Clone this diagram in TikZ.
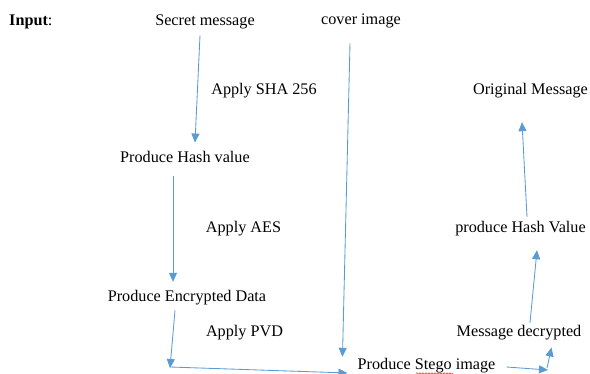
\documentclass[tikz,border=0pt]{standalone}
\usepackage{fontspec}
\setmainfont{Liberation Serif}
\usetikzlibrary{arrows.meta,decorations.pathmorphing}

\definecolor{ink}{HTML}{000000}
\definecolor{flowblue}{HTML}{5B9BD5}
\definecolor{spellred}{HTML}{E0302A}

\begin{document}
\begin{tikzpicture}[
  x=1pt,
  y=-1pt,
  font=\fontsize{16.2}{19}\selectfont,
  lbl/.style={inner sep=0pt,text height=11pt,text depth=3.5pt,text=ink},
  flow/.style={draw=flowblue,line width=.85pt,-{Triangle[length=9pt,width=8pt]}},
  squiggle/.style={draw=spellred,line width=.5pt,decorate,
    decoration={snake,amplitude=.8pt,segment length=3pt}}
]
\useasboundingbox (0,0) rectangle (590,374);

% labels
\node[lbl,anchor=west] (input) at (9,22) {\textbf{Input}:};
\node[lbl] (secret) at (205,22) {Secret message};
\node[lbl] (cover) at (361,21) {cover image};
\node[lbl] (sha) at (264,91) {Apply SHA 256};
\node[lbl] (orig) at (530.5,91) {Original Message};
\node[lbl] (hash) at (185,159) {Produce Hash value};
\node[lbl] (aes) at (243.5,229) {Apply AES};
\node[lbl] (hashv) at (520.5,229) {produce Hash Value};
\node[lbl] (enc) at (187,298) {Produce Encrypted Data};
\node[lbl] (pvd) at (244.5,333) {Apply PVD};
\node[lbl] (decr) at (519,333) {Message decrypted};
\node[lbl] (stego) at (426.5,366) {Produce Stego image};

% bends
\coordinate (bendL) at (170,368);
\coordinate (bendR) at (548,370);

% flow
\draw[flow] ([shift={(-5,6)}]secret.south) -- ([shift={(10,-9)}]hash.north);
\draw[flow] ([shift={(-12,10)}]hash.south) -- ([shift={(-14,-8.75)}]enc.north);
\draw[flow] ([shift={(-12,5)}]enc.south) -- (bendL);
\draw[flow] ([shift={(0,-1)}]bendL) -- ([shift={(-10,7)}]stego.west);
\draw[flow] ([shift={(-11,15)}]cover.south) -- ([shift={(-15,-1.75)}]stego.north west);
\draw[flow] ([shift={(11,1)}]stego.east) -- (bendR);
\draw[flow] ([shift={(-1,-2)}]bendR) -- ([shift={(-30,7)}]decr.south east);
\draw[flow] ([shift={(11,-2.75)}]decr.north) -- ([shift={(16.5,13.75)}]hashv.south);
\draw[flow] ([shift={(6.5,-4.75)}]hashv.north) -- ([shift={(-8.5,23.75)}]orig.south);

% spell-check mark
\draw[squiggle] ([shift={(-10.5,7.5)}]stego.center) -- ([shift={(26.5,7.5)}]stego.center);
\end{tikzpicture}
\end{document}
